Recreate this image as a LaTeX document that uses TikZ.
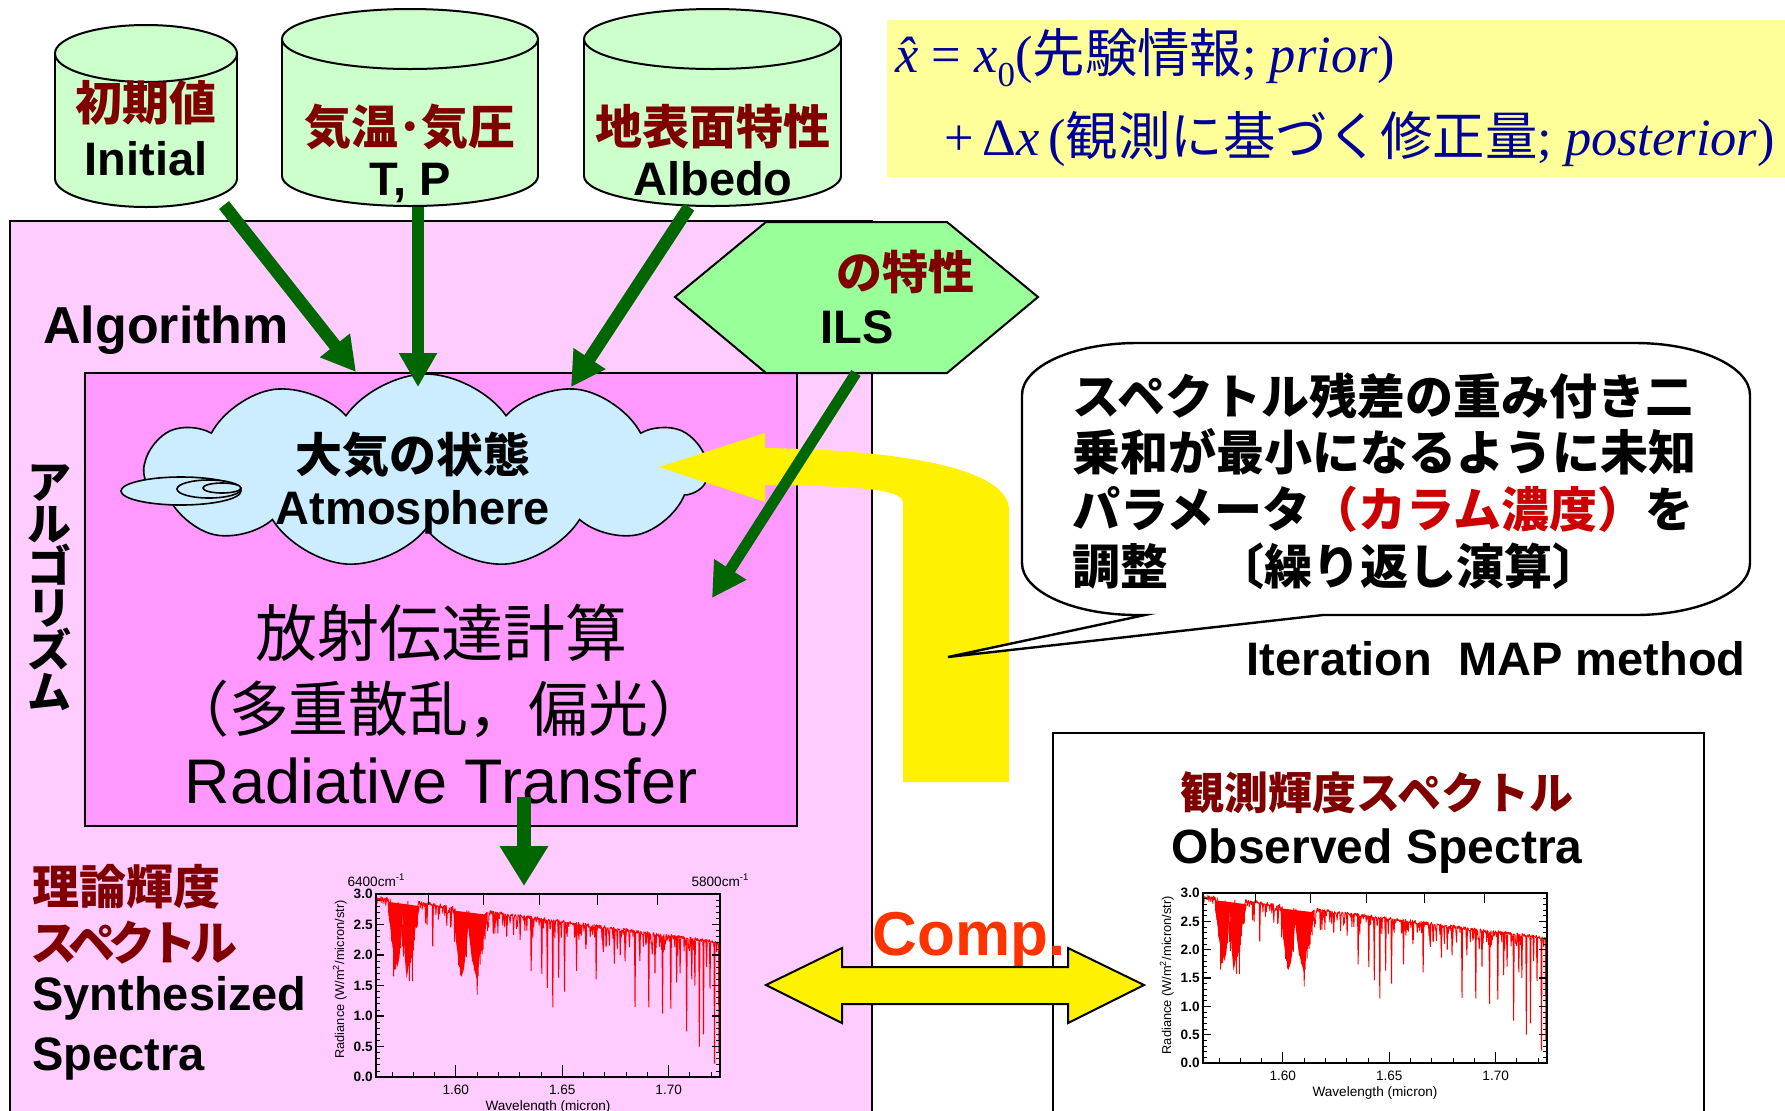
\documentclass[tikz,border=0pt]{standalone}
\usepackage{fontspec}
\setmainfont{Liberation Sans}
\newfontfamily\cjk{Noto Sans CJK JP}
\newfontfamily\tms{Liberation Serif}
\usetikzlibrary{shapes.symbols,arrows.meta}
\definecolor{pinkA}{HTML}{FFCCFF}
\definecolor{pinkB}{HTML}{FF99FF}
\definecolor{cloudc}{HTML}{CCECFF}
\definecolor{cylc}{HTML}{CCFFCC}
\definecolor{hexc}{HTML}{99FF99}
\definecolor{formc}{HTML}{FFFF99}
\definecolor{darkg}{HTML}{006600}
\definecolor{dred}{HTML}{800000}
\definecolor{cred}{HTML}{CC0000}
\definecolor{compc}{HTML}{FF3300}
\definecolor{navyc}{HTML}{000099}
\newcommand\fsz[1]{\fontsize{#1}{#1}\selectfont}
\newcommand\mycyl[5]{%
  \fill[cylc,draw=black,line width=1pt] ({(#1+#2)/2},{#4-#5}) ellipse [x radius={(#2-#1)/2}, y radius=#5];
  \fill[cylc] (#1,{#3+#5}) rectangle (#2,{#4-#5});
  \draw[line width=1pt] (#1,{#3+#5}) -- (#1,{#4-#5}) (#2,{#3+#5}) -- (#2,{#4-#5});
  \fill[cylc,draw=black,line width=1pt] ({(#1+#2)/2},{#3+#5}) ellipse [x radius={(#2-#1)/2}, y radius=#5];
}
\newcommand\myspectrum{%
  \fill[red] (.036,2.85) -- (.041,2.48) -- (.048,2.14) -- (.055,1.95) -- (.062,1.8) -- (.068,1.95) -- (.073,2.31) -- (.078,2.7) -- (.080,2.5) -- (.084,1.95) -- (.089,1.62) -- (.097,1.88) -- (.107,2.14) -- (.116,2.48) -- (.126,2.75) -- (.126,2.80) -- (.078,2.84) -- (.036,2.87) -- cycle;
  \fill[red] (.225,2.70) -- (.233,2.2) -- (.242,1.85) -- (.249,1.65) -- (.256,1.78) -- (.264,2.2) -- (.268,2.48) -- (.271,2.31) -- (.278,1.97) -- (.288,1.72) -- (.293,1.6) -- (.300,1.93) -- (.310,2.31) -- (.322,2.62) -- (.322,2.66) -- (.225,2.73) -- cycle;
  \pgfmathsetseed{4242}%
  \draw[red,line width=0.45pt,line join=round] (0,2.9) \foreach \k in {1,...,700}{ -- ({\k/700},{spec(\k/700,\k)}) };
  \foreach \t/\v in {0.165/2.14,0.341/2.35,0.38/2.3,0.419/2.25,0.451/1.74,0.482/1.69,0.498/1.46,0.514/1.14,0.531/1.63,0.548/1.40,0.583/1.74,0.61/2.1,0.640/1.60,0.661/2.05,0.693/1.86,0.71/2.0,0.724/1.9,0.753/1.15,0.767/1.9,0.793/1.14,0.811/1.7,0.833/1.04,0.857/1.12,0.874/1.55,0.884/1.7,0.903/0.75,0.918/1.6,0.927/1.50,0.940/0.50,0.952/0.70,0.961/1.8,0.971/1.45,0.984/0.22,0.997/0.41}{
    \draw[red,line width=0.5pt] ({\t-0.0015},{sbase(\t)}) -- (\t,\v) -- ({\t+0.0015},{sbase(\t)});
  }
  \draw[line width=0.8pt] (0,0) rectangle (1,3);
  \foreach \v in {0,0.5,1,1.5,2,2.5,3}{
    \draw[line width=0.6pt] (0,\v) -- (0.022,\v) (1,\v) -- (0.978,\v);
  }
  \foreach \k in {1,...,29}{
    \draw[line width=0.4pt] (0,\k/10) -- (0.011,\k/10) (1,\k/10) -- (0.989,\k/10);
  }
  \foreach \k in {0,...,15}{
    \draw[line width=0.4pt] ({(0.0075+0.01*\k)/0.1616},0) -- ++(0,0.09);
  }
  \foreach \t in {0.2320,0.5415,0.8509}{
    \draw[line width=0.6pt] (\t,0) -- ++(0,0.2);
  }
  \foreach \n in {6300,6200,6100,6000,5900}{
    \draw[line width=0.6pt] ({(10000/\n-1.5625)/0.1616},3) -- ++(0,-0.18);
  }
  \foreach \v in {0.0,0.5,1.0,1.5,2.0,2.5,3.0}{
    \node[anchor=east,font=\bfseries\fsz{6.8},inner xsep=1.5pt,inner ysep=0pt] at (0,\v) {\v};
  }
  \node[anchor=north,font=\fsz{6.8},inner sep=0,yshift=-4pt] (xa) at (0.2320,0) {1.60};
  \node[anchor=north,font=\fsz{6.8},inner sep=0,yshift=-4pt] (xb) at (0.5415,0) {1.65};
  \node[anchor=north,font=\fsz{6.8},inner sep=0,yshift=-4pt] (xc) at (0.8509,0) {1.70};
  \node[anchor=north,font=\fsz{6.8},inner sep=0,yshift=-11.5pt] (xw) at (0.5,0) {Wavelength (micron)};
}
\begin{document}
\begin{tikzpicture}[x=0.5pt,y=-0.5pt,
  declare function={
    sbase(\t)=2.93-0.75*\t;
    bshape(\t,\q,\r)=min(1,max(0,1.4*(1-abs(\t-\q)/\r)));
    sband(\t)=max(1.15*bshape(\t,0.057,0.022),1.3*bshape(\t,0.094,0.03),1.15*bshape(\t,0.248,0.024),1.17*bshape(\t,0.294,0.028));
    spec(\t,\k)=sbase(\t)+0.05*rnd-sband(\t)*((1-mod(\k,2))*(0.55+0.45*rnd)+mod(\k,2)*0.35*rnd)-0.35*rnd^7;
  },
  garrow/.style={draw=darkg,line width=6.3pt,-{Triangle[width=18pt,length=17pt]}},
  jb/.style={font=\cjk\bfseries\fsz{23.5},inner sep=0},
  eb/.style={font=\bfseries\fsz{23.5},inner sep=0},
]
\clip (0,0) rectangle (1785,1110);
\fill[white] (0,0) rectangle (1785,1110);

% formula box
\fill[formc] (887,20) rectangle (1790,177);
\node[anchor=base west,inner sep=0,text=navyc,font=\tms\fsz{26.2}] (f1) at (895,72)
  {\itshape\^{x}\upshape\ =\ \itshape x\upshape\raisebox{-0.28em}{\fsz{17.5}0}({\cjk 先験情報};\ \itshape prior\upshape)};
\node[anchor=base west,inner sep=0,text=navyc,font=\tms\fsz{26.2}] (f2) at (944,155)
  {+\,Δ\itshape x\upshape\,({\cjk 観測に基づく修正量};\ \itshape posterior\upshape)};

% algorithm boxes
\draw[fill=pinkA,line width=1pt] (10,221) rectangle (872,1130);
\draw[fill=pinkB,line width=1pt] (85,373) rectangle (797,826);

% cloud
\node[cloud,cloud puffs=11,cloud puff arc=110,cloud ignores aspect,minimum width=281pt,minimum height=97pt,draw=black,line width=0.8pt,fill=cloudc,inner sep=0] (cloud) at (426,471) {};
\draw[fill=cloudc,line width=0.8pt] (181,491) ellipse [x radius=60, y radius=14];
\draw[fill=cloudc,line width=0.8pt] (209,489) ellipse [x radius=32, y radius=9];
\draw[fill=cloudc,line width=0.8pt] (222,488) ellipse [x radius=19, y radius=5];
\node[jb] (atj) at (413,455) {大気の状態};
\node[anchor=base,font=\bfseries\fsz{23.5},inner sep=0] (ate) at (413,524) {Atmosphere};

% observed box
\draw[fill=white,line width=1.2pt] (1053,733) rectangle (1704,1130);
\node[font=\cjk\bfseries\fsz{22},text=dred,inner sep=0] (obsj) at (1377,793) {観測輝度スペクトル};
\node[anchor=base,font=\bfseries\fsz{24},inner sep=0] (obse) at (1377,863) {Observed Spectra};

% yellow iteration arrow
\coordinate (ytip) at (659,467);
\fill[yellow] (ytip) -- (765,433) -- (765,448) .. controls (900,450) and (1009,468) .. (1009,510) -- (1009,782) -- (903,782) -- (903,503) .. controls (903,492) and (880,486) .. (765,485) -- (765,502) -- cycle;

% callout
\coordinate (tailtip) at (948,657);
\draw[fill=white,line width=1.2pt] (1137,343) -- (1635,343) .. controls (1698.5,343) and (1750,366.3) .. (1750,395) -- (1750,563) .. controls (1750,591.7) and (1698.5,615) .. (1635,615) -- (1323,615) -- (tailtip) -- (1145,615) -- (1137,615) .. controls (1073.5,615) and (1022,591.7) .. (1022,563) -- (1022,395) .. controls (1022,366.3) and (1073.5,343) .. (1137,343) -- cycle;
\node[anchor=base west,font=\cjk\bfseries\fsz{24},inner sep=0] (cl1) at (1072,414) {スペクトル残差の重み付き二};
\node[anchor=base west,font=\cjk\bfseries\fsz{24},inner sep=0] (cl2) at (1072,470) {乗和が最小になるように未知};
\node[anchor=base west,font=\cjk\bfseries\fsz{24},inner sep=0] (cl3) at (1072,527) {パラメータ\textcolor{cred}{（カラム濃度）}を};
\node[anchor=base west,font=\cjk\bfseries\fsz{24},inner sep=0] (cl4) at (1072,584) {調整　〔繰り返し演算〕};
\node[anchor=base east,eb] (iter) at (1746,675) {Iteration~~MAP method};

% ILS hexagon
\draw[fill=hexc,line width=1pt] (675,297) -- (766,222) -- (947,222) -- (1038,297) -- (947,373) -- (766,373) -- cycle;
\node[font=\cjk\bfseries\fsz{23},text=dred,inner sep=0] (ilsj) at (905,272) {の特性};
\node[anchor=base,eb] (ilse) at (857,343) {ILS};

% cylinders
\mycyl{55}{237}{25}{207}{28.5}
\mycyl{282}{538}{9}{206}{30}
\mycyl{584}{841}{9}{206}{30}
\node[jb,text=dred] (c1j) at (146,103) {初期値};
\node[anchor=base,eb] (c1e) at (146,175) {Initial};
\node[jb,text=dred] (c2j) at (410,127) {気温･気圧};
\node[anchor=base,eb] (c2e) at (410,195) {T, P};
\node[jb,text=dred] (c3j) at (713,127) {地表面特性};
\node[anchor=base,eb] (c3e) at (713,195) {Albedo};

% inner box texts
\node[font=\cjk\fsz{31},inner sep=0] (rtj1) at (441,633) {放射伝達計算};
\node[anchor=base,font=\cjk\fsz{30},inner sep=0,text depth=0pt] (rtj2) at (439,731) {（多重散乱，偏光）};
\node[anchor=base,font=\fsz{31.5},inner sep=0,text height=22pt] (rte) at (441,803) {Radiative Transfer};

% green arrows
\coordinate (c1b) at (224,205); \coordinate (t1) at (356,372);
\coordinate (c2b) at (418,207); \coordinate (t2) at (418,387);
\coordinate (c3b) at (689,207); \coordinate (t3) at (571,387);
\coordinate (ilsb) at (856,373); \coordinate (t4) at (712,598);
\coordinate (rtb) at (524,797); \coordinate (t5) at (524,886);
\draw[garrow] (c1b) -- (t1);
\draw[garrow] (c2b) -- (t2);
\draw[garrow] (c3b) -- (t3);
\draw[garrow,line width=5.5pt] (ilsb) -- (t4);
\draw[draw=darkg,line width=7pt,-{Triangle[width=23pt,length=20pt]}] (rtb) -- (t5);

% left labels
\node[anchor=base west,font=\bfseries\fsz{26},inner sep=0] (algo) at (43,343) {Algorithm};
\node[align=center,font=\cjk\bfseries\fontsize{22}{21}\selectfont,inner sep=0] (algv) at (49,588) {ア\\ル\\ゴ\\リ\\ズ\\ム};
\node[anchor=west,jb,text=dred] (sy1) at (32,887) {理論輝度};
\node[anchor=west,jb,text=dred] (sy2) at (30,943) {\addfontfeatures{LetterSpace=-13}スペクトル};
\node[anchor=base west,eb] (sy3) at (32,1010) {Synthesized};
\node[anchor=base west,eb] (sy4) at (32,1070) {Spectra};

% plots
\begin{scope}[shift={(376,1077)},x={(344,0)},y={(0,-61)}]
  \myspectrum
  \node[rotate=90,font=\fsz{6.4},inner sep=0] (ya) at (-0.105,1.6) {Radiance (W/m\textsuperscript{2}/micron/str)};
  \node[anchor=south west,font=\fsz{6.8},inner sep=0,yshift=3.5pt] (wn1) at (-0.084,3) {6400cm\textsuperscript{-1}};
  \node[anchor=south west,font=\fsz{6.8},inner sep=0,yshift=3.5pt] (wn2) at (0.916,3) {5800cm\textsuperscript{-1}};
\end{scope}
\begin{scope}[shift={(1203,1063)},x={(344,0)},y={(0,-56.67)}]
  \myspectrum
  \node[rotate=90,font=\fsz{6.4},inner sep=0] (yb) at (-0.105,1.55) {Radiance (W/m\textsuperscript{2}/micron/str)};
\end{scope}

% comparison
\node[anchor=base west,font=\bfseries\fsz{31},text=compc,inner sep=0] (comp) at (872,955) {Comp.};
\draw[fill=yellow,line width=1pt] (766,985) -- (842,948) -- (842,967) -- (1068,967) -- (1068,948) -- (1144,985) -- (1068,1023) -- (1068,1004) -- (842,1004) -- (842,1023) -- cycle;
\end{tikzpicture}
\end{document}
